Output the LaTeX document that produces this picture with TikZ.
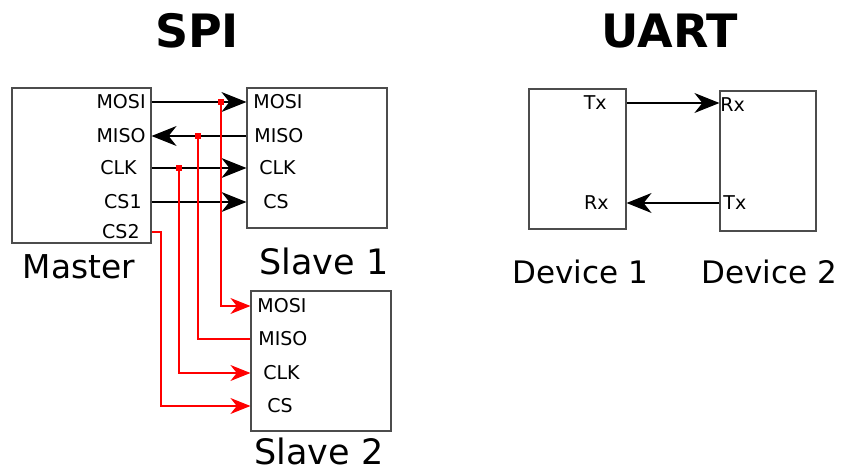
\documentclass[tikz,border=0pt]{standalone}
\usepackage{fontspec}
\setmainfont{DejaVu Sans}
\usetikzlibrary{arrows.meta,positioning}

\begin{document}
\begin{tikzpicture}[x=0.5pt, y=-0.5pt,
    box/.style={draw=black!70, line width=0.6pt, inner sep=0pt},
    pin/.style={font=\fontsize{9.5}{11}\selectfont, inner sep=0pt},
    boxlabel/.style={font=\fontsize{16.4}{18}\selectfont, inner sep=0pt},
    heading/.style={font=\fontsize{23}{25}\selectfont\bfseries, inner sep=0pt},
    dot/.style={fill=red, minimum size=2.6pt, inner sep=0pt},
    wire/.style={line width=0.55pt, -{Stealth[length=12.5pt, width=10pt, inset=4pt]}},
    rwire/.style={red, line width=0.55pt},
    rarrow/.style={rwire, -{Stealth[length=10pt, width=8pt, inset=3.2pt]}}
]
    \useasboundingbox (0,0) rectangle (847,470);

    % SPI
    \node[heading] (spi) at (197,31) {SPI};
    \node[box, minimum width=69.5pt, minimum height=77.5pt] (master) at (81.5,165.5) {};
    \node[box, minimum width=70pt, minimum height=70pt] (s1) at (317,158) {};
    \node[box, minimum width=70pt, minimum height=70pt] (s2) at (321,361) {};

    \node[pin, anchor=east] (mmosi) at (146,102) {MOSI};
    \node[pin, anchor=east] (mmiso) at (146,136) {MISO};
    \node[pin, anchor=east] (mclk) at (137,168) {CLK};
    \node[pin, anchor=east] (mcs1) at (142,202) {CS1};
    \node[pin, anchor=east] (mcs2) at (140,232) {CS2};

    \node[pin, anchor=west] (s1mosi) at (253,102) {MOSI};
    \node[pin, anchor=west] (s1miso) at (254,136) {MISO};
    \node[pin, anchor=west] (s1clk) at (259,168) {CLK};
    \node[pin, anchor=west] (s1cs) at (263,202) {CS};

    \node[pin, anchor=west] (s2mosi) at (257,306) {MOSI};
    \node[pin, anchor=west] (s2miso) at (258,339) {MISO};
    \node[pin, anchor=west] (s2clk) at (263,373) {CLK};
    \node[pin, anchor=west] (s2cs) at (267,406) {CS};

    \node[boxlabel] (mname) at (79,267) {Master};
    \node[boxlabel, font=\fontsize{17.5}{19}\selectfont] (s1name) at (324,261) {Slave 1};
    \node[boxlabel, font=\fontsize{17.5}{19}\selectfont] (s2name) at (319,451) {Slave 2};

    \draw[wire] (master.east |- mmosi) -- (s1.west |- mmosi);
    \draw[wire] (s1.west |- mmiso) -- (master.east |- mmiso);
    \draw[wire] (master.east |- mclk) -- (s1.west |- mclk);
    \draw[wire] (master.east |- mcs1) -- (s1.west |- mcs1);

    \node[dot] (jmosi) at (221,102) {};
    \node[dot] (jmiso) at (198,136) {};
    \node[dot] (jclk) at (179,168) {};
    \coordinate (jcs) at (161,232);

    \draw[rarrow] (jmosi.center) |- (s2.west |- s2mosi);
    \draw[rwire] (jmiso.center) |- (s2.west |- s2miso);
    \draw[rarrow] (jclk.center) |- (s2.west |- s2clk);
    \draw[rarrow] (master.east |- mcs2) -- (jcs) |- (s2.west |- s2cs);

    % UART
    \node[heading] (uart) at (670,31) {UART};
    \node[box, minimum width=48.5pt, minimum height=70pt] (dev1) at (577.5,159) {};
    \node[box, minimum width=48pt, minimum height=70pt] (dev2) at (768,161) {};

    \node[pin, anchor=east] (d1tx) at (607,103) {Tx};
    \node[pin, anchor=east] (d1rx) at (609,203) {Rx};
    \node[pin, anchor=west] (d2rx) at (720,105) {Rx};
    \node[pin, anchor=west] (d2tx) at (723,203) {Tx};

    \node[boxlabel, font=\fontsize{15.5}{17}\selectfont] (d1name) at (580,272) {Device 1};
    \node[boxlabel, font=\fontsize{15.5}{17}\selectfont] (d2name) at (769,272) {Device 2};

    \draw[wire] (dev1.east |- d1tx) -- (dev2.west |- d1tx);
    \draw[wire] (dev2.west |- d2tx) -- (dev1.east |- d2tx);
\end{tikzpicture}
\end{document}
